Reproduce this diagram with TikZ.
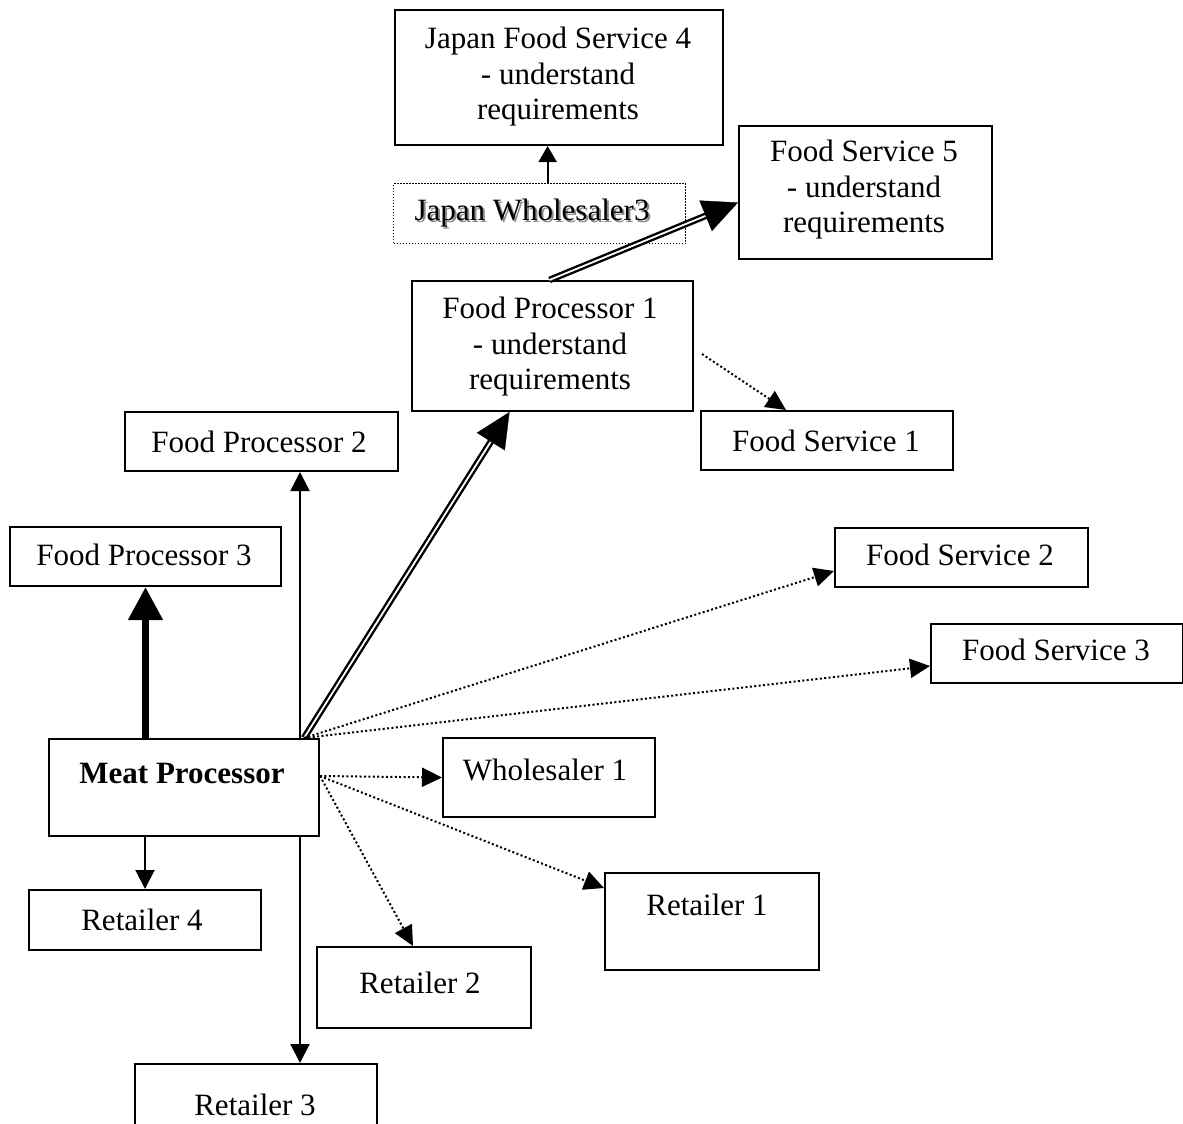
\documentclass[tikz,border=0pt]{standalone}
\usepackage{fontspec}
\setmainfont{Liberation Serif}
\usetikzlibrary{arrows.meta,calc}
\begin{document}
\begin{tikzpicture}[x=1pt,y=-1pt,
  box/.style={draw, line width=2pt, inner sep=0pt, anchor=north west},
  dotbox/.style={draw, line width=1.3pt, dash pattern=on 1.3pt off 1.7pt, inner sep=0pt, anchor=north west},
  lbl/.style={font=\fontsize{31}{35.5}\selectfont, inner sep=0pt, anchor=base},
  mlbl/.style={font=\fontsize{31}{35.5}\selectfont, inner sep=0pt, align=center},
  thinarrow/.style={line width=2pt, -{Triangle[length=19pt,width=19pt]}},
  dots/.style={line width=2pt, dash pattern=on 2pt off 2.4pt, -{Triangle[length=20pt,width=19pt]}},
  heavy/.style={line width=7.5pt, -{Triangle[length=33pt,width=33pt]}},
  dblshaft/.style={line width=2.4pt, double=white, double distance=1.8pt, shorten >=30pt},
  dblhead/.style={line width=0.3pt, -{Triangle[length=35pt,width=33pt]}},
]
\clip (0,0) rectangle (1183,1124);
\fill[white] (0,0) rectangle (1183,1124);

% boxes
\node[box, minimum width=328pt, minimum height=135pt] (jfs4) at (394,9) {};
\node[dotbox, minimum width=292pt, minimum height=60pt] (jw3) at (393,183) {};
\node[box, minimum width=253pt, minimum height=133pt] (fs5) at (738,125) {};
\node[box, minimum width=281pt, minimum height=130pt] (fp1) at (411,280) {};
\node[box, minimum width=273pt, minimum height=59pt] (fp2) at (124,411) {};
\node[box, minimum width=252pt, minimum height=59pt] (fs1) at (700,410) {};
\node[box, minimum width=271pt, minimum height=59pt] (fp3) at (9,526) {};
\node[box, minimum width=253pt, minimum height=59pt] (fs2) at (834,527) {};
\node[box, minimum width=252pt, minimum height=59pt] (fs3) at (930,623) {};
\node[box, minimum width=270pt, minimum height=97pt] (mp) at (48,738) {};
\node[box, minimum width=212pt, minimum height=79pt] (w1) at (442,737) {};
\node[box, minimum width=232pt, minimum height=60pt] (r4) at (28,889) {};
\node[box, minimum width=214pt, minimum height=97pt] (r1) at (604,872) {};
\node[box, minimum width=214pt, minimum height=81pt] (r2) at (316,946) {};
\node[box, minimum width=242pt, minimum height=100pt] (r3) at (134,1063) {};

% labels
\node[mlbl] (jfs4t) at (558,77) {Japan Food Service 4\\- understand\\requirements};
\node[lbl, text=black!45] (jw3s) at (534,222) {Japan Wholesaler3};
\node[lbl] (jw3t) at (532,220) {Japan Wholesaler3};
\node[mlbl] (fs5t) at (864,190) {Food Service 5\\- understand\\requirements};
\node[mlbl] (fp1t) at (550,347) {Food Processor 1\\- understand\\requirements};
\node[lbl] (fp2t) at (259,452) {Food Processor 2};
\node[lbl] (fs1t) at (826,451) {Food Service 1};
\node[lbl] (fp3t) at (144,565) {Food Processor 3};
\node[lbl] (fs2t) at (960,565) {Food Service 2};
\node[lbl] (fs3t) at (1056,660) {Food Service 3};
\node[lbl, font=\fontsize{31}{35.5}\selectfont\bfseries] (mpt) at (182,783) {Meat Processor};
\node[lbl] (w1t) at (545,780) {Wholesaler 1};
\node[lbl] (r1t) at (707,915) {Retailer 1};
\node[lbl] (r4t) at (142,930) {Retailer 4};
\node[lbl] (r2t) at (420,993) {Retailer 2};
\node[lbl] (r3t) at (255,1115) {Retailer 3};

% attachment points
\coordinate (mptop) at ([xshift=-20pt]mp.north east);
\coordinate (mpbot) at ([xshift=-20pt]mp.south east);
\coordinate (mpc) at ([xshift=-16pt]mp.north east);
\coordinate (mpe) at ([yshift=11.5pt]mp.east);
\coordinate (fp1in) at ([xshift=-43pt]fp1.south);
\coordinate (fp1top) at ([xshift=-3pt]fp1.north);
\coordinate (fs5in) at ([yshift=-10pt]fs5.west);
\coordinate (jwtop) at ([xshift=8pt]jw3.north);

% solid connectors
\draw[heavy] (fp3.south |- mp.north) -- (fp3.south);
\draw[thinarrow] (r4.north |- mp.south) -- (r4.north);
\draw[thinarrow] (mptop) -- (mptop |- fp2.south);
\draw[thinarrow] (mpbot) -- (mpbot |- r3.north);
\draw[line width=2pt, -{Triangle[length=16pt,width=18pt]}] (jwtop) -- (jwtop |- jfs4.south);

% double-line connectors
\draw[dblshaft] (mpc) -- (fp1in);
\draw[dblhead] ($(fp1in)!36pt!(mpc)$) -- (fp1in);
\draw[dblshaft] (fp1top) -- (fs5in);
\draw[dblhead] ($(fs5in)!36pt!(fp1top)$) -- (fs5in);

% dotted connectors
\draw[dots] (mpc) -- ([yshift=-13.5pt]fs2.west);
\draw[dots] (mpc) -- ([yshift=-12.5pt]fs3.west);
\draw[dots] (mpe) -- (w1.west);
\draw[dots] (mpe) -- ([yshift=-16pt]r1.north west);
\draw[dots] (mpe) -- ([xshift=-11pt]r2.north);
\draw[dots] ([shift={(8pt,-8pt)}]fp1.east) -- ([xshift=-41pt]fs1.north);
\end{tikzpicture}
\end{document}
